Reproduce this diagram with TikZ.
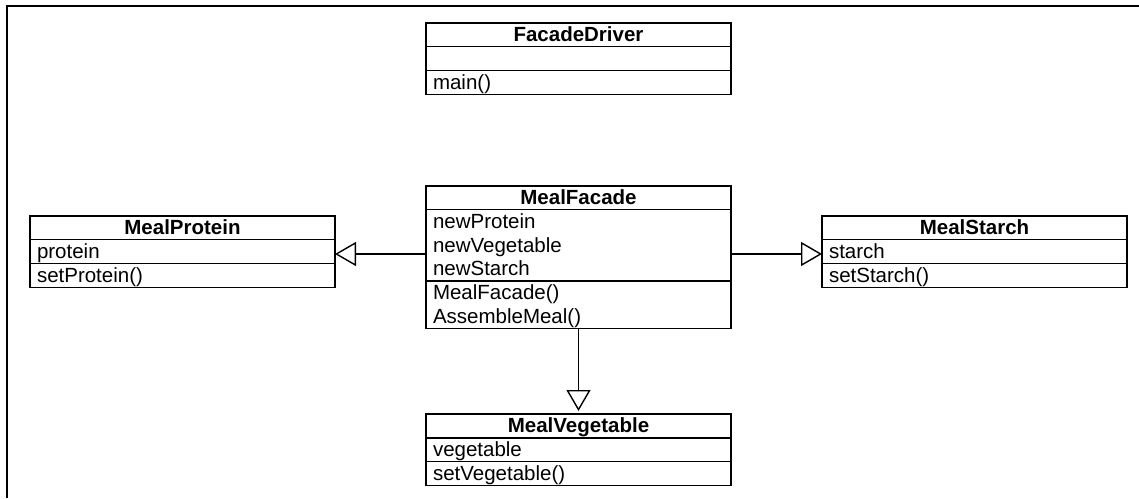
\documentclass[tikz,border=0pt]{standalone}
\usepackage{fontspec}
\setmainfont{Liberation Sans}
\usetikzlibrary{arrows.meta}
\tikzset{
  cls/.style={draw, line width=1.4pt, inner xsep=7pt, inner ysep=0pt, outer sep=0pt,
    text width=291pt, anchor=north west, align=left,
    font=\fontsize{20.5}{23.8}\selectfont, text height=18.5pt, text depth=5.3pt},
  hdr/.style={cls, align=center, font=\fontsize{20.5}{23.8}\selectfont\bfseries},
  rows2/.style={text depth=29.1pt},
  rows3/.style={text depth=52.9pt},
  inh/.style={line width=1.4pt, -{Triangle[open,length=21pt,width=24pt,line width=1.4pt]}},
}
\begin{document}
\begin{tikzpicture}[x=1pt,y=1pt]
\useasboundingbox (0,0) rectangle (1139,498);
% frame (top and left edges)
\draw[line width=2.4pt] (7,0) -- (7,492) -- (1139,492);

% FacadeDriver
\node[hdr] (fd) at (426,475) {FacadeDriver};
\node[cls] (fda) at (fd.south west) {};
\node[cls] (fdm) at (fda.south west) {main()};

% MealFacade
\node[hdr] (mf) at (426,312) {MealFacade};
\node[cls,rows3] (mfa) at (mf.south west) {newProtein\\newVegetable\\newStarch};
\node[cls,rows2] (mfm) at (mfa.south west) {MealFacade()\\AssembleMeal()};

% MealProtein
\node[hdr] (mp) at (30,282) {MealProtein};
\node[cls] (mpa) at (mp.south west) {protein};
\node[cls] (mpm) at (mpa.south west) {setProtein()};

% MealStarch
\node[hdr] (ms) at (822,282) {MealStarch};
\node[cls] (msa) at (ms.south west) {starch};
\node[cls] (msm) at (msa.south west) {setStarch()};

% MealVegetable
\node[hdr] (mv) at (426,84) {MealVegetable};
\node[cls] (mva) at (mv.south west) {vegetable};
\node[cls] (mvm) at (mva.south west) {setVegetable()};

% connectors
\coordinate (lp) at ([yshift=-8.5pt]mfa.west);
\coordinate (rp) at ([yshift=-8.5pt]mfa.east);
\draw[inh] (lp) -- (lp -| mpa.east);
\draw[inh] (rp) -- (rp -| msa.west);
\draw[inh, shorten >=3pt] (mfm.south) -- (mv.north);
\end{tikzpicture}
\end{document}
